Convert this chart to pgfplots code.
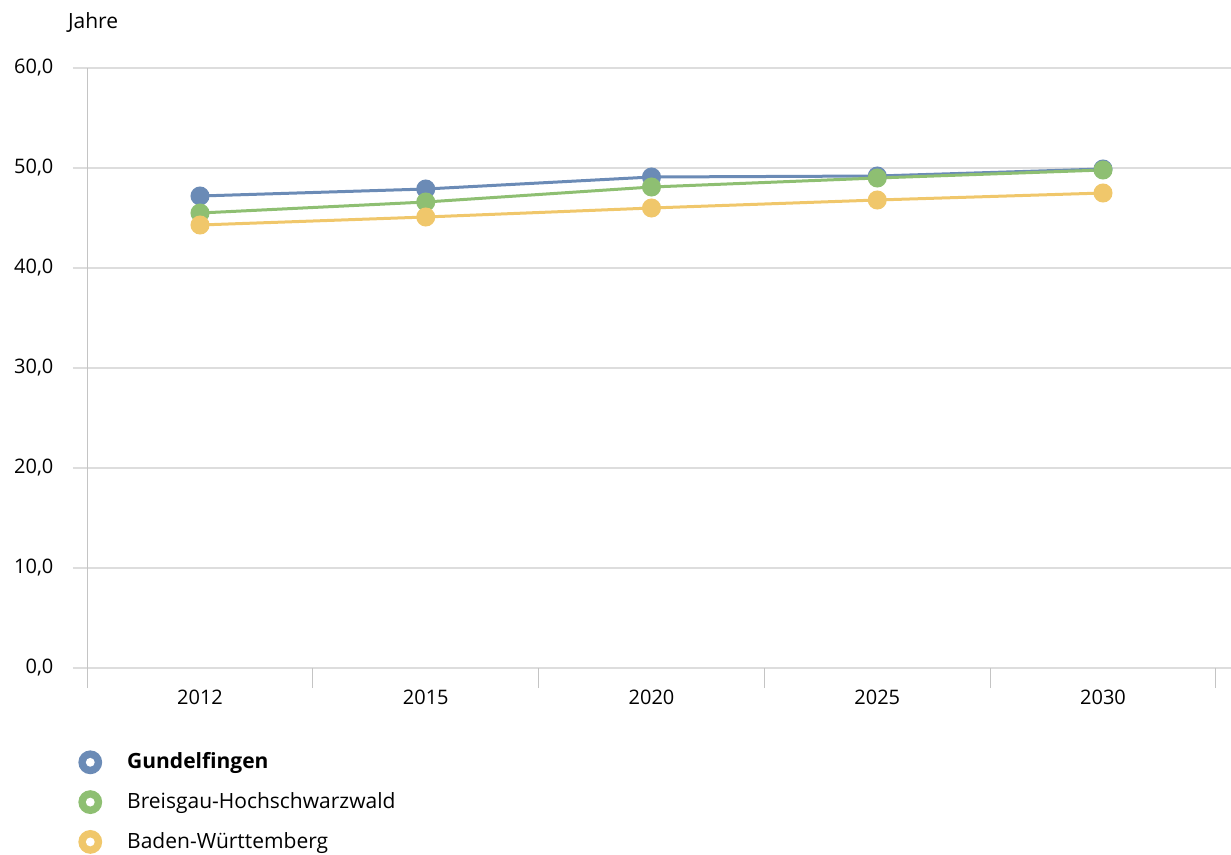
\documentclass[border=0pt]{standalone}
\usepackage{pgfplots}
\pgfplotsset{compat=1.18}
\usepackage{fontspec}
\setmainfont{Open Sans}

\definecolor{gblue}{HTML}{6B8BB6}
\definecolor{ggreen}{HTML}{8EBF72}
\definecolor{gyellow}{HTML}{F0C76B}
\definecolor{gridgray}{HTML}{DDDDDD}
\definecolor{axisgray}{HTML}{C4C4C4}

\begin{document}
\begin{tikzpicture}
\useasboundingbox (0,0) rectangle (615.5bp,427.5bp);
\begin{axis}[
  at={(36.5bp,93.5bp)}, anchor=south west,
  scale only axis, width=579bp, height=300bp,
  xmin=-0.5626, xmax=4.567, ymin=0, ymax=60,
  axis line style={draw=none},
  font=\fontsize{10bp}{12bp}\selectfont,
  xtick={0,...,4},
  xticklabels={2012,2015,2020,2025,2030},
  xtick pos=left,
  major tick length=0pt,
  xticklabel style={yshift=-7.5bp},
  extra x ticks={-0.5,0.5,1.5,2.5,3.5,4.5},
  extra x tick labels={},
  extra x tick style={major tick length=10bp, tick align=outside,
    tick style={axisgray, line width=0.6bp}},
  ytick={0,10,...,60},
  ytick style={draw=none},
  yticklabel style={/pgf/number format/.cd, fixed, fixed zerofill,
    precision=1, use comma, assume math mode=true, /tikz/.cd,
    xshift=-6.3bp},
  ymajorgrids,
  grid style={gridgray, line width=0.6bp},
  every axis plot/.append style={line width=1.5bp, mark=*,
    mark size=4bp},
  legend cell align=left,
  legend style={at={(0.0043,-0.1367)}, anchor=north west, draw=none,
    fill=none, inner sep=0pt, row sep=8bp, column sep=12.5bp,
    font=\fontsize{10.5bp}{12bp}\selectfont,
    nodes={inner sep=0pt}},
  legend image code/.code={
    \fill[#1] (0,0) circle (5.2bp);
    \fill[white] (0,0) circle (1.4bp);
  },
]
\draw[axisgray, line width=0.6bp] (axis cs:-0.5,60) -- (axis cs:-0.5,0);

\addplot[color=gblue, mark options={fill=gblue, draw=gblue}]
  coordinates {(0,47.2) (1,47.9) (2,49.1) (3,49.2) (4,49.9)};
\addplot[color=ggreen, mark options={fill=ggreen, draw=ggreen}]
  coordinates {(0,45.5) (1,46.6) (2,48.1) (3,49.0) (4,49.8)};
\addplot[color=gyellow, mark options={fill=gyellow, draw=gyellow}]
  coordinates {(0,44.3) (1,45.1) (2,46.0) (3,46.8) (4,47.5)};
\legend{\textbf{Gundelfingen},Breisgau-Hochschwarzwald,Baden-Württemberg}
\end{axis}
\node[anchor=base west, font=\fontsize{10.5bp}{12bp}\selectfont]
  at (30.5bp,413bp) {Jahre};
\end{tikzpicture}
\end{document}
